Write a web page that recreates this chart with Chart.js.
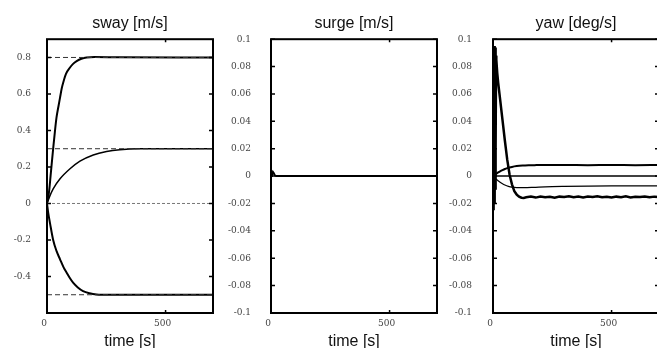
<!DOCTYPE html>
<html>
<head>
<meta charset="utf-8">
<script src="https://cdn.jsdelivr.net/npm/chart.js@4"></script>
<style>
  html, body { margin: 0; padding: 0; background: #fff; overflow: hidden; }
  canvas { position: absolute; top: 0; }
</style>
</head>
<body>
<canvas id="sway" width="220" height="348" style="left:0px"></canvas>
<canvas id="surge" width="222" height="348" style="left:220px"></canvas>
<canvas id="yaw" width="226" height="348" style="left:440px"></canvas>
<script>
// tick values
const swayTicks = [-0.4, -0.2, 0, 0.2, 0.4, 0.6, 0.8];
const smallTicks = [-0.1, -0.08, -0.06, -0.04, -0.02, 0, 0.02, 0.04, 0.06, 0.08, 0.1];
const timeTicks = [0, 500];

// sway [m/s]
const refT = [0, 700];
const ref08 = [0.8, 0.8];
const ref03 = [0.3, 0.3];
const ref00 = [0, 0];
const refM05 = [-0.5, -0.5];

const swayAT = [0, 5, 10, 15, 20, 26, 33, 40, 48, 55, 62, 70, 80, 97, 110, 125, 145, 167, 200, 300, 700];
const swayA = [0, 0.03, 0.08, 0.15, 0.22, 0.30, 0.39, 0.47, 0.53, 0.58, 0.63, 0.67, 0.71, 0.745, 0.765, 0.78, 0.793, 0.80, 0.802, 0.801, 0.80];

const swayBT = [0, 10, 26, 55, 97, 139, 195, 251, 307, 390, 500, 700];
const swayB = [0, 0.035, 0.08, 0.135, 0.19, 0.232, 0.266, 0.285, 0.295, 0.30, 0.30, 0.30];

const swayCT = [0, 5, 13, 26, 40, 55, 70, 83, 97, 110, 130, 152, 180, 209, 260, 400, 700];
const swayC = [0, -0.05, -0.11, -0.20, -0.26, -0.306, -0.35, -0.379, -0.41, -0.434, -0.46, -0.48, -0.492, -0.498, -0.50, -0.50, -0.50];

// surge [m/s]
const surgeT = [0, 4, 8, 12, 16, 20, 700];
const surge = [0, 0.001, 0.003, 0.002, 0.0005, 0, 0];

// yaw [deg/s]
const yawAT = [0, 1, 2, 3, 4, 5, 6, 7, 8, 9, 10, 11, 12, 13, 14, 18, 22, 30, 40, 50, 60, 70, 80, 90, 100, 110, 120, 130,
  140, 160, 180, 200, 220, 240, 260, 280, 300, 320, 340, 360, 380, 400, 420, 440, 460, 480, 500, 520, 540, 560, 580, 600, 620, 640, 660, 680, 700];
const yawA = [0, 0.01, -0.02, 0.06, -0.025, 0.09, -0.02, 0.095, -0.018, 0.094, -0.01, 0.09, 0.02, 0.088, 0.085, 0.075, 0.068, 0.056, 0.041, 0.026, 0.012, 0.001, -0.006, -0.011, -0.0135, -0.015, -0.0158, -0.016,
  -0.0155, -0.0150, -0.0157, -0.0149, -0.0154, -0.0151, -0.0158, -0.0150, -0.0153, -0.0147, -0.0155, -0.0150, -0.0156, -0.0149, -0.0153, -0.0148, -0.0155, -0.0151, -0.0157, -0.0150, -0.0154, -0.0148, -0.0156, -0.0151, -0.0153, -0.0149, -0.0155, -0.0150, -0.0153];

const yawBT = [0, 10, 20, 30, 40, 50, 60, 80, 100, 125, 150, 175, 200, 300, 400, 500, 600, 700];
const yawB = [0, 0.0013, 0.0025, 0.0035, 0.0044, 0.0052, 0.0058, 0.0067, 0.0073, 0.0077, 0.0079, 0.008, 0.0081, 0.0081, 0.008, 0.0081, 0.008, 0.0081];

const yawCT = [0, 700];
const yawC = [0, 0];

const yawDT = [0, 10, 20, 30, 40, 50, 65, 80, 100, 130, 170, 220, 300, 400, 500, 600, 700];
const yawD = [0, -0.0018, -0.0032, -0.0045, -0.0056, -0.0065, -0.0075, -0.0081, -0.0084, -0.0084, -0.0082, -0.0078, -0.0075, -0.0073, -0.0072, -0.0072, -0.0072];

const pts = (ts, vs) => ts.map((t, i) => ({ x: t, y: vs[i] }));

const framePlugin = {
  id: 'frame',
  afterDraw(chart) {
    const { ctx, chartArea: a, scales: { x, y } } = chart;
    ctx.save();
    ctx.strokeStyle = '#000';
    ctx.lineWidth = 1.5;
    ctx.beginPath();
    y.ticks.forEach(t => {
      const py = y.getPixelForValue(t.value);
      ctx.moveTo(a.left, py); ctx.lineTo(a.left + 4, py);
      ctx.moveTo(a.right, py); ctx.lineTo(a.right - 4, py);
    });
    x.ticks.forEach(t => {
      const px = x.getPixelForValue(t.value);
      ctx.moveTo(px, a.top); ctx.lineTo(px, a.top + 3);
      ctx.moveTo(px, a.bottom); ctx.lineTo(px, a.bottom - 3);
    });
    ctx.stroke();
    ctx.lineWidth = 2;
    ctx.strokeRect(a.left, a.top, a.width, a.height);
    ctx.restore();
  }
};

function line(data, width, dash, color, smooth) {
  return {
    data: data,
    borderColor: color || '#000',
    borderWidth: width,
    borderDash: dash || [],
    pointRadius: 0,
    fill: false,
    cubicInterpolationMode: smooth ? 'monotone' : 'default',
    tension: 0
  };
}

function makeChart(id, title, datasets, yMin, yMax, yTicks, yWidth, yPad, rightPad) {
  new Chart(document.getElementById(id), {
    type: 'line',
    data: { datasets: datasets },
    plugins: [framePlugin],
    options: {
      responsive: false,
      animation: false,
      layout: { padding: { left: 0, right: rightPad, top: 0, bottom: 0 } },
      plugins: {
        legend: { display: false },
        tooltip: { enabled: false },
        title: {
          display: true,
          text: title,
          fullSize: false,
          color: '#111',
          font: { family: 'Liberation Sans', size: 16, weight: 'normal' },
          padding: { top: 14, bottom: 6 }
        }
      },
      scales: {
        x: {
          type: 'linear',
          min: 0,
          max: 700,
          afterBuildTicks: s => { s.ticks = timeTicks.map(v => ({ value: v })); },
          afterFit: s => { s.height = 35; },
          grid: { display: false, drawTicks: false },
          border: { display: false },
          ticks: {
            padding: 5,
            labelOffset: -3,
            color: '#444',
            font: { family: 'DejaVu Serif', size: 9 },
            callback: v => String(v)
          },
          title: {
            display: true,
            text: 'time [s]',
            color: '#111',
            font: { family: 'Liberation Sans', size: 16, lineHeight: 1 },
            padding: { top: 0, bottom: -2 }
          }
        },
        y: {
          min: yMin,
          max: yMax,
          afterBuildTicks: s => { s.ticks = yTicks.map(v => ({ value: v })); },
          afterFit: s => { s.width = yWidth; },
          grid: { display: false, drawTicks: false },
          border: { display: false },
          ticks: {
            padding: yPad,
            color: '#444',
            font: { family: 'DejaVu Serif', size: 9 },
            callback: v => String(v)
          }
        }
      }
    }
  });
}

makeChart('sway', 'sway [m/s]', [
  line(pts(refT, ref08), 1, [5, 3], '#333'),
  line(pts(refT, ref03), 1, [5, 3], '#333'),
  line(pts(refT, ref00), 1, [3, 2], '#777'),
  line(pts(refT, refM05), 1, [5, 3], '#333'),
  line(pts(swayAT, swayA), 2, [], '#000', true),
  line(pts(swayBT, swayB), 1.5, [], '#000', true),
  line(pts(swayCT, swayC), 2, [], '#000', true)
], -0.6, 0.9, swayTicks, 47, 16, 7);

makeChart('surge', 'surge [m/s]', [
  line(pts(surgeT, surge), 2, [], '#000')
], -0.1, 0.1, smallTicks, 51, 20, 5);

makeChart('yaw', 'yaw [deg/s]', [
  line(pts(yawCT, yawC), 1.5, [], '#000'),
  line(pts(yawDT, yawD), 1.2, [], '#000', true),
  line(pts(yawBT, yawB), 2, [], '#000', true),
  line(pts(yawAT, yawA), 2.5, [], '#000')
], -0.1, 0.1, smallTicks, 53, 21, 7);
</script>
</body>
</html>
